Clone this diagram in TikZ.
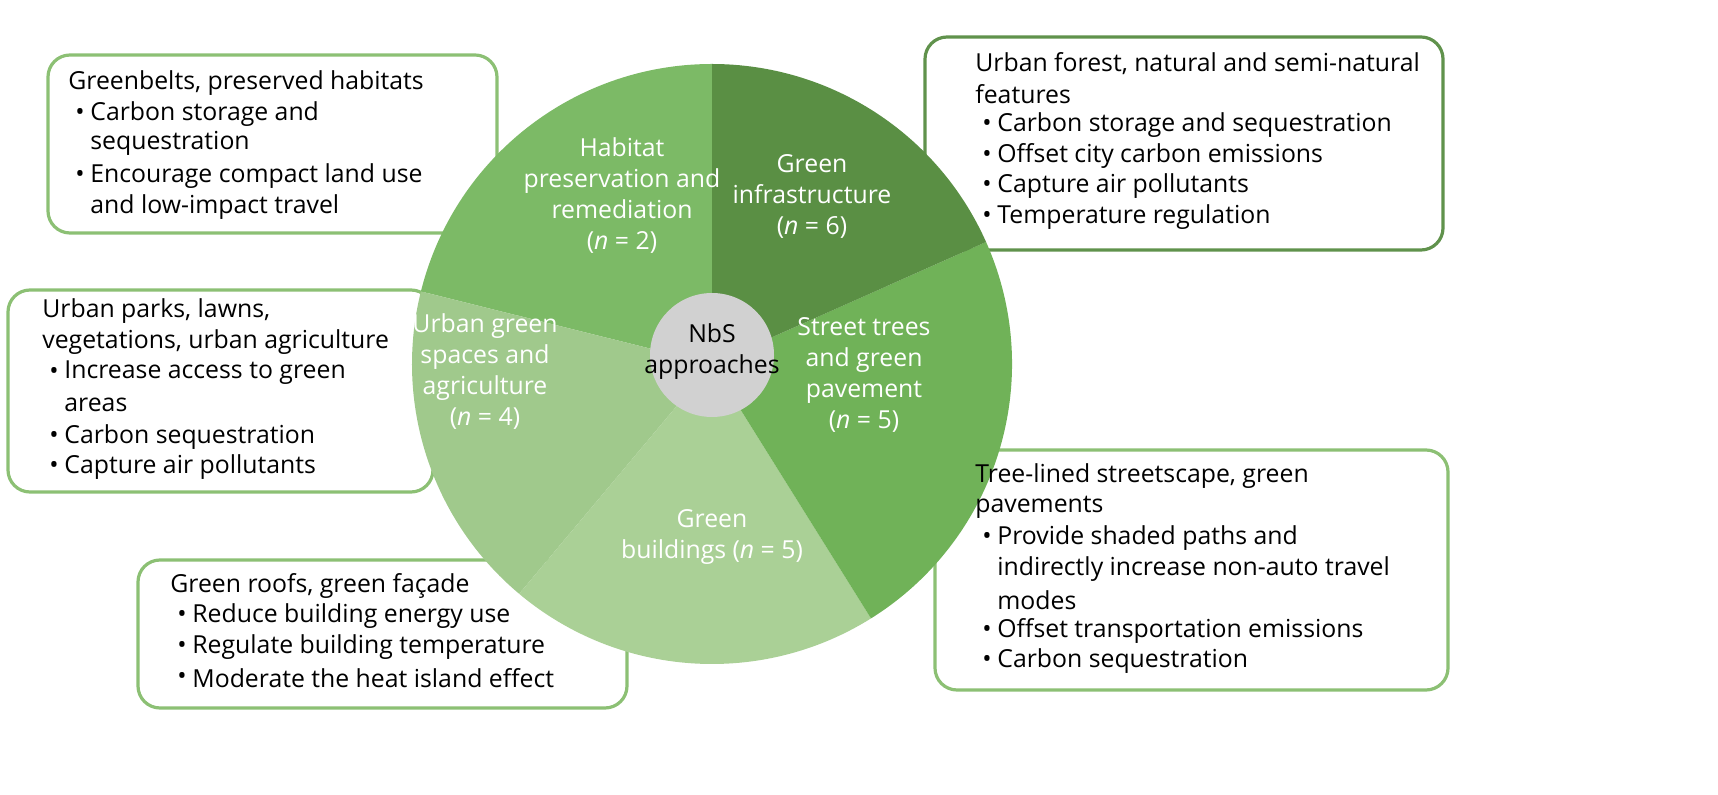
\documentclass[tikz,border=0pt]{standalone}
\usepackage{fontspec}
\setmainfont{Open Sans}
\definecolor{hab}{RGB}{124,186,102}
\definecolor{inf}{RGB}{90,143,68}
\definecolor{str}{RGB}{112,178,88}
\definecolor{bld}{RGB}{170,208,150}
\definecolor{urb}{RGB}{160,201,140}
\definecolor{bx}{RGB}{140,192,116}
\definecolor{bxd}{RGB}{96,146,76}
\tikzset{
 box/.style={draw=bx,line width=1.6pt,rounded corners=11pt,fill=white},
 ln/.style={anchor=west,inner sep=0pt,font=\fontsize{12.4}{15}\selectfont},
 lab/.style={align=center,text=white,font=\fontsize{12.4}{15.5}\selectfont},
}
\newcommand{\bl}[3]{\node[ln] at (#1+7,#2) {•}; \node[ln] at (#1+22,#2) {#3};}
\newcommand{\tl}[3]{\node[ln] at (#1,#2) {#3};}
\begin{document}
\begin{tikzpicture}[x=0.5pt,y=-0.5pt]
\useasboundingbox (0,0) rectangle (1718,795);
% boxes
\draw[box] (48,55) rectangle (497,233);
\draw[box,draw=bxd] (925,37) rectangle (1443,250);
\draw[box] (8,290) rectangle (433,492);
\draw[box] (935,450) rectangle (1448,690);
\draw[box] (138,560) rectangle (627,708);
% pie
\coordinate (C) at (712,364);
\fill[hab] (C) -- ++(90:150pt) arc[start angle=90,end angle=166,radius=150pt] -- cycle;
\fill[urb] (C) -- ++(166:150pt) arc[start angle=166,end angle=230,radius=150pt] -- cycle;
\fill[bld] (C) -- ++(230:150pt) arc[start angle=230,end angle=302,radius=150pt] -- cycle;
\fill[str] (C) -- ++(302:150pt) arc[start angle=302,end angle=384,radius=150pt] -- cycle;
\fill[inf] (C) -- ++(24:150pt) arc[start angle=24,end angle=90,radius=150pt] -- cycle;
\node[circle,fill=black!18,minimum size=62pt,inner sep=0pt] (nbs) at (712,355) {};
\node[align=center,font=\fontsize{12.4}{15.5}\selectfont] (nbst) at (712,352) {NbS\\approaches};
\node[lab] (l1) at (622,196) {Habitat\\preservation and\\remediation\\(\textit{n} = 2)};
\node[lab] (l2) at (812,196) {Green\\infrastructure\\(\textit{n} = 6)};
\node[lab] (l3) at (864,375) {Street trees\\and green\\pavement\\(\textit{n} = 5)};
\node[lab] (l4) at (712,537) {Green\\buildings (\textit{n} = 5)};
\node[lab] (l5) at (485,372) {Urban green\\spaces and\\agriculture\\(\textit{n} = 4)};
% box texts
\tl{68}{83}{Greenbelts, preserved habitats}
\bl{68}{114}{Carbon storage and}
\tl{90}{143}{sequestration}
\bl{68}{176}{Encourage compact land use}
\tl{90}{207}{and low-impact travel}
\tl{975}{64}{Urban forest, natural and semi-natural}
\tl{975}{94}{features}
\bl{975}{125}{Carbon storage and sequestration}
\bl{975}{156}{Offset city carbon emissions}
\bl{975}{186}{Capture air pollutants}
\bl{975}{217}{Temperature regulation}
\tl{42}{311}{Urban parks, lawns,}
\tl{42}{342}{vegetations, urban agriculture}
\bl{42}{373}{Increase access to green}
\tl{64}{405}{areas}
\bl{42}{437}{Carbon sequestration}
\bl{42}{467}{Capture air pollutants}
\tl{975}{476}{Tree-lined streetscape, green}
\tl{975}{507}{pavements}
\bl{975}{538}{Provide shaded paths and}
\tl{997}{569}{indirectly increase non-auto travel}
\tl{997}{600}{modes}
\bl{975}{631}{Offset transportation emissions}
\bl{975}{661}{Carbon sequestration}
\tl{170}{586}{Green roofs, green façade}
\bl{170}{616}{Reduce building energy use}
\bl{170}{647}{Regulate building temperature}
\bl{170}{678}{Moderate the heat island effect}
\end{tikzpicture}
\end{document}
